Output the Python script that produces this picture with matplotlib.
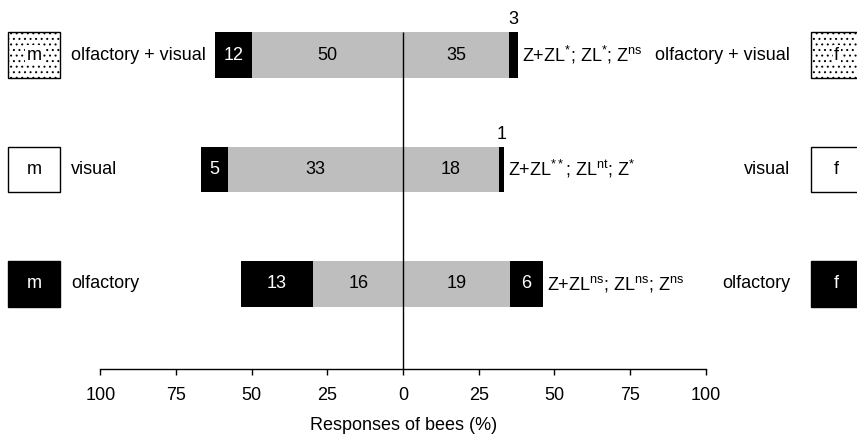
import matplotlib
matplotlib.use('Agg')

import numpy as np
import matplotlib.pyplot as plt

plt.rcParams['font.family'] = ['Liberation Sans', 'DejaVu Sans']
plt.rcParams['mathtext.fontset'] = 'custom'
plt.rcParams['mathtext.rm'] = 'Liberation Sans'
plt.rcParams['mathtext.it'] = 'Liberation Sans'
plt.rcParams['hatch.linewidth'] = 0.7

# rows from bottom to top
stimuli = ['olfactory', 'visual', 'olfactory + visual']
# numbers of bees per response class (left side = m, right side = f)
m_black = [13, 5, 12]
m_grey = [16, 33, 50]
f_grey = [19, 18, 35]
f_black = [6, 1, 3]
stats = [r'Z+ZL$^{\mathrm{ns}}$; ZL$^{\mathrm{ns}}$; Z$^{\mathrm{ns}}$',
         r'Z+ZL$^{**}$; ZL$^{\mathrm{nt}}$; Z$^{*}$',
         r'Z+ZL$^{*}$; ZL$^{*}$; Z$^{\mathrm{ns}}$']
ticks = [-100, -75, -50, -25, 0, 25, 50, 75, 100]

GREY = '#bebebe'
FS = 13
H = 0.40          # bar height in row units
AXIS_Y = -0.746   # position of the x axis line


def main():
    total = np.array(m_black) + np.array(m_grey) + np.array(f_grey) + np.array(f_black)
    pm_black = 100.0 * np.array(m_black) / total
    pm_grey = 100.0 * np.array(m_grey) / total
    pf_grey = 100.0 * np.array(f_grey) / total
    pf_black = 100.0 * np.array(f_black) / total

    fig = plt.figure(figsize=(8.57, 4.36), dpi=100)
    ax = fig.add_axes([0, 0, 1, 1])
    ax.set_xlim(-133.2, 150.0)
    ax.set_ylim(-1.331, 2.481)

    y = np.arange(len(stimuli))

    # bars: grey next to zero, black on the outside
    ax.barh(y, -pm_grey, height=H, color=GREY, edgecolor='none')
    ax.barh(y, -pm_black, left=-pm_grey, height=H, color='black', edgecolor='none')
    ax.barh(y, pf_grey, height=H, color=GREY, edgecolor='none')
    ax.barh(y, pf_black, left=pf_grey, height=H, color='black', edgecolor='none')

    # counts inside segments, above them when the segment is too thin
    def count_label(x0, w, yi, n, dark):
        xc = x0 + w / 2.0
        if abs(w) < 5:
            ax.text(xc, yi + H / 2 + 0.035, str(n), ha='center', va='bottom',
                    fontsize=FS, color='black')
        else:
            ax.text(xc, yi, str(n), ha='center', va='center', fontsize=FS,
                    color='white' if dark else 'black')

    for i in range(len(stimuli)):
        count_label(0, -pm_grey[i], y[i], m_grey[i], False)
        count_label(-pm_grey[i], -pm_black[i], y[i], m_black[i], True)
        count_label(0, pf_grey[i], y[i], f_grey[i], False)
        count_label(pf_grey[i], pf_black[i], y[i], f_black[i], True)
        ax.text(pf_grey[i] + pf_black[i] + 1.3, y[i], stats[i], ha='left',
                va='center', fontsize=FS)

    # stimulus labels and m / f boxes on both sides
    box_style = [dict(color='black', tc='white', hatch=None),
                 dict(color='white', tc='black', hatch=None),
                 dict(color='white', tc='black', hatch='...')]
    for i, name in enumerate(stimuli):
        st = box_style[i]
        for x0, letter in [(-130.4, 'm'), (134.8, 'f')]:
            ax.barh(y[i], 16.9, left=x0, height=H, color=st['color'],
                    edgecolor='black', linewidth=1.0, hatch=st['hatch'])
            ax.text(x0 + 8.45, y[i], letter, ha='center', va='center',
                    fontsize=FS, color=st['tc'],
                    bbox=dict(facecolor='white', edgecolor='none', pad=1.0)
                    if st['hatch'] else None)
        ax.text(-109.7, y[i], name, ha='left', va='center', fontsize=FS)
        ax.text(127.9, y[i], name, ha='right', va='center', fontsize=FS)

    # centre line from the axis to the top bar
    ax.vlines(0, AXIS_Y, y[-1] + H / 2, color='black', linewidth=1.0)

    for s in ['top', 'right', 'left']:
        ax.spines[s].set_visible(False)
    ax.spines['bottom'].set_position(('data', AXIS_Y))
    ax.spines['bottom'].set_bounds(-100, 100)
    ax.spines['bottom'].set_linewidth(1.0)
    ax.set_yticks([])
    ax.set_xticks(ticks)
    ax.set_xticklabels([str(abs(t)) for t in ticks])
    ax.tick_params(axis='x', direction='out', length=4, width=1.0, pad=9,
                   labelsize=FS)
    ax.text(0, -1.236, 'Responses of bees (%)', ha='center', va='center',
            fontsize=FS)

    fig.savefig('out.png', dpi=100)


if __name__ == '__main__':
    main()
